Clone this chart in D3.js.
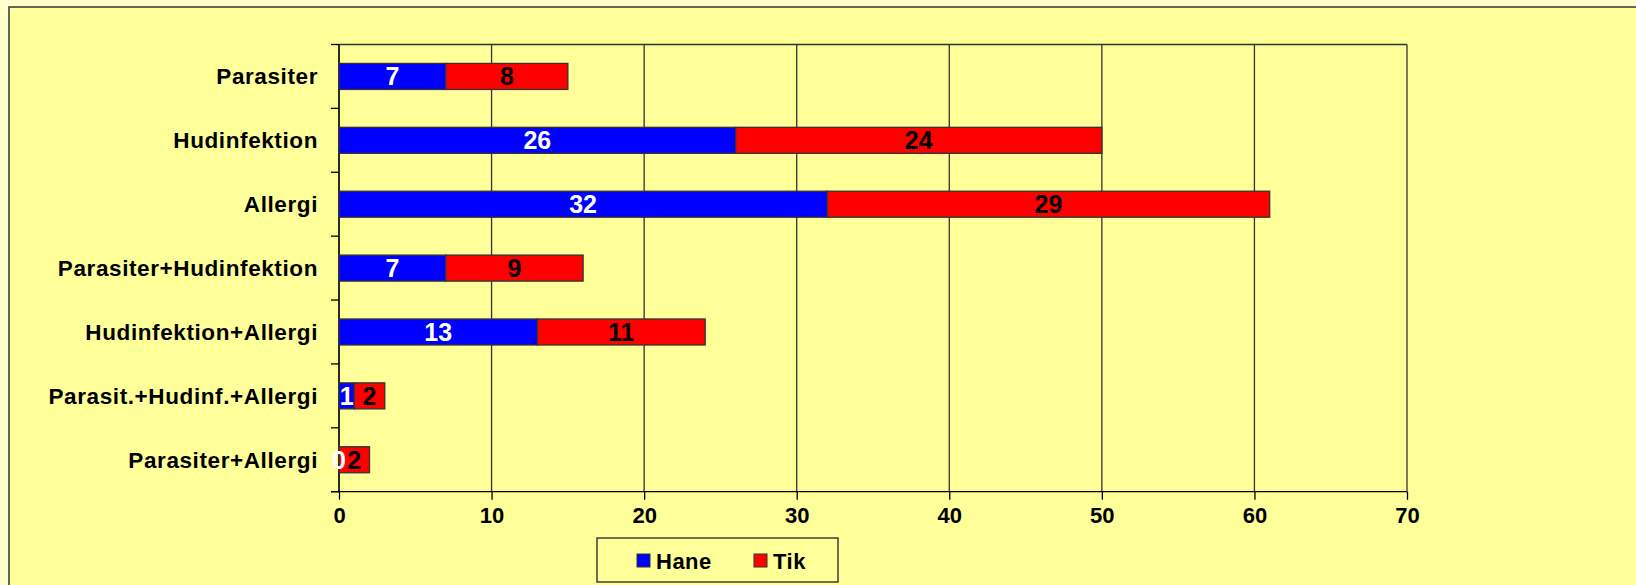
<!DOCTYPE html>
<html>
<head>
<meta charset="utf-8">
<script src="https://cdn.jsdelivr.net/npm/d3@7"></script>
<style>
  html, body { margin: 0; padding: 0; background: #ffffcc; }
  svg { display: block; }
  text { font-family: "Liberation Sans", Arial, sans-serif; font-weight: bold; }
</style>
</head>
<body>
<svg id="chart" width="1636" height="585"></svg>
<script>
const categories = ["Parasiter", "Hudinfektion", "Allergi", "Parasiter+Hudinfektion", "Hudinfektion+Allergi", "Parasit.+Hudinf.+Allergi", "Parasiter+Allergi"];
const hane = [7, 26, 32, 7, 13, 1, 0];
const tik = [8, 24, 29, 9, 11, 2, 2];
const seriesNames = ["Hane", "Tik"];
const seriesColors = ["#0000ff", "#ff0000"];
const labelColors = ["#ffffff", "#000000"];
const xTicks = [0, 10, 20, 30, 40, 50, 60, 70];

const svg = d3.select("#chart");
const W = 1636, H = 585;
const plot = { left: 339, right: 1407, top: 44.5, bottom: 491.7 };

// outer chart area
svg.append("rect").attr("x", 0).attr("y", 0).attr("width", W).attr("height", H).attr("fill", "#ffffcc");
svg.append("rect").attr("x", 9).attr("y", 7).attr("width", W + 20).attr("height", H + 20)
  .attr("fill", "#ffff99").attr("stroke", "#404040").attr("stroke-width", 1.6);

const x = d3.scaleLinear().domain([0, 70]).range([plot.left, plot.right]);
const y = d3.scaleBand().domain(categories).range([plot.top, plot.bottom])
  .paddingInner(0.593).paddingOuter(0.2965);
const yIdx = d3.scaleLinear().domain([0, categories.length]).range([plot.top, plot.bottom]);

// gridlines
svg.append("g").selectAll("line").data(xTicks).join("line")
  .attr("x1", d => x(d)).attr("x2", d => x(d))
  .attr("y1", plot.top).attr("y2", plot.bottom)
  .attr("stroke", "#333333").attr("stroke-width", 1.3);
// plot top border
svg.append("line").attr("x1", plot.left).attr("x2", plot.right).attr("y1", plot.top).attr("y2", plot.top)
  .attr("stroke", "#333333").attr("stroke-width", 1.3);

// x axis
const xAxis = d3.axisBottom(x).tickValues(xTicks).tickSize(8).tickPadding(8).tickFormat(d3.format("d"));
const gx = svg.append("g").attr("transform", `translate(0,${plot.bottom})`).call(xAxis);
gx.select(".domain").attr("stroke", "#000").attr("stroke-width", 1.3).attr("d", `M${plot.left - 8},0H${plot.right}`);
gx.selectAll(".tick line").attr("stroke", "#000").attr("stroke-width", 1.3);
gx.selectAll(".tick text").attr("fill", "#000").style("font-size", "22px")
  .style("font-family", '"Liberation Sans", Arial, sans-serif').style("font-weight", "bold");

// y axis line and ticks
svg.append("line").attr("x1", plot.left).attr("x2", plot.left).attr("y1", plot.top).attr("y2", plot.bottom)
  .attr("stroke", "#000").attr("stroke-width", 1.3);
svg.append("g").selectAll("line").data(d3.range(categories.length + 1)).join("line")
  .attr("x1", plot.left - 8).attr("x2", plot.left)
  .attr("y1", d => yIdx(d)).attr("y2", d => yIdx(d))
  .attr("stroke", "#000").attr("stroke-width", 1.3);
svg.append("g").selectAll("text").data(categories).join("text")
  .attr("x", plot.left - 21).attr("y", d => y(d) + y.bandwidth() / 2)
  .attr("dy", "0.35em").attr("text-anchor", "end")
  .style("font-size", "22.5px").style("letter-spacing", "0.6px").attr("fill", "#000")
  .text(d => d);

// stacked bars
const table = categories.map((c, i) => ({ cat: c, Hane: hane[i], Tik: tik[i] }));
const stacked = d3.stack().keys(seriesNames)(table);
const layers = svg.append("g").selectAll("g").data(stacked).join("g");
layers.selectAll("rect").data(d => d).join("rect")
  .attr("x", d => x(d[0])).attr("width", d => x(d[1]) - x(d[0]))
  .attr("y", d => y(d.data.cat)).attr("height", y.bandwidth())
  .attr("fill", (d, i, n) => seriesColors[stacked.indexOf(d3.select(n[i].parentNode).datum())])
  .attr("stroke", "#333333").attr("stroke-width", 1.3);

stacked.forEach((layer, si) => {
  svg.append("g").selectAll("text").data(layer).join("text")
    .attr("x", d => x((d[0] + d[1]) / 2))
    .attr("y", d => y(d.data.cat) + y.bandwidth() / 2)
    .attr("dy", "0.36em").attr("text-anchor", "middle")
    .attr("fill", labelColors[si]).style("font-size", "25px")
    .text(d => d.data[layer.key]);
});

// legend
const leg = svg.append("g");
leg.append("rect").attr("x", 597).attr("y", 538).attr("width", 241).attr("height", 44)
  .attr("fill", "#ffff99").attr("stroke", "#333333").attr("stroke-width", 1.4);
const legX = [637, 754];
seriesNames.forEach((s, i) => {
  leg.append("rect").attr("x", legX[i]).attr("y", 554).attr("width", 13).attr("height", 13)
    .attr("fill", seriesColors[i]).attr("stroke", "#333333").attr("stroke-width", 1);
  leg.append("text").attr("x", legX[i] + 19).attr("y", 561).attr("dy", "0.35em")
    .style("font-size", "22px").style("letter-spacing", "0.5px").attr("fill", "#000").text(s);
});
</script>
</body>
</html>
